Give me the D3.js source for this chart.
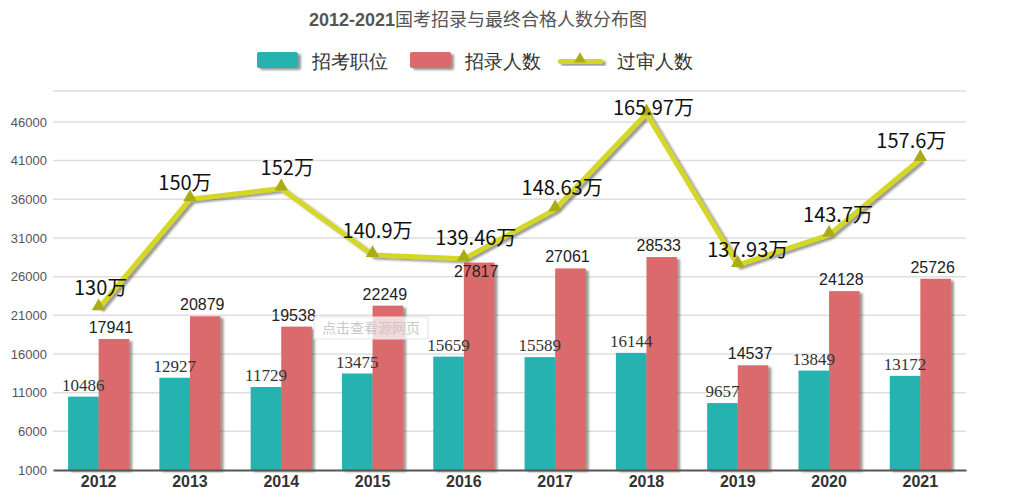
<!DOCTYPE html>
<html>
<head>
<meta charset="utf-8">
<script src="https://cdn.jsdelivr.net/npm/d3@7"></script>
<style>
  body { margin: 0; background: #fff; }
  svg text { font-family: "Liberation Sans", Arial, sans-serif; }
</style>
</head>
<body>
<svg id="chart"></svg>
<script>
var years = ["2012", "2013", "2014", "2015", "2016", "2017", "2018", "2019", "2020", "2021"]
var posts = [10486, 12927, 11729, 13475, 15659, 15589, 16144, 9657, 13849, 13172]
var hires = [17941, 20879, 19538, 22249, 27817, 27061, 28533, 14537, 24128, 25726]
// 过审人数 as drawn on the chart's axis (the chart does not plot it to scale)
var passedPlot = [21900, 36000, 37400, 28800, 28300, 34700, 47100, 27500, 31400, 41200]
var passedLabels = ["130万", "150万", "152万", "140.9万", "139.46万", "148.63万", "165.97万", "137.93万", "143.7万", "157.6万"]
var yTicks = [1000, 6000, 11000, 16000, 21000, 26000, 31000, 36000, 41000, 46000]

var width = 1033
var height = 502
var teal = "#27b3b0", red = "#db6b6d", lineCol = "#d5d726", markCol = "#a9ab17"

// label nudges so the line labels sit where the original puts them
var lineLabelOffset = [[2, -13], [-5, -9], [6, -13], [5, -17], [12, -14], [7, -14], [7, 2], [10, -8], [9, -13], [-9, -11]]

var svg = d3.select("#chart")
    .attr("width", width)
    .attr("height", height)

var defs = svg.append("defs")
var f = defs.append("filter").attr("id", "shadow")
    .attr("x", "-20%").attr("y", "-20%").attr("width", "150%").attr("height", "150%")
f.append("feDropShadow")
    .attr("dx", 3).attr("dy", 2).attr("stdDeviation", 1.3)
    .attr("flood-color", "#4a4a3a").attr("flood-opacity", 0.55)

var x = d3.scaleBand()
    .domain(years)
    .range([53, 966])
    .paddingInner(0.33)
    .paddingOuter(0.165)

var xSub = d3.scaleBand()
    .domain(["posts", "hires"])
    .range([0, x.bandwidth()])

var y = d3.scaleLinear()
    .domain([1000, 50000])
    .range([470, 91])

// title
var title = svg.append("text")
    .attr("x", 478)
    .attr("y", 26)
    .attr("text-anchor", "middle")
    .attr("fill", "#555")
    .style("font-size", "18px")
title.append("tspan").style("font-weight", "bold").text("2012-2021")
title.append("tspan").style("font-family", "'Noto Sans CJK SC'").text("国考招录与最终合格人数分布图")

// legend
var lg = svg.append("g").style("font-family", "'Noto Sans CJK SC'")
lg.append("rect").attr("x", 257).attr("y", 52).attr("width", 41).attr("height", 16).attr("rx", 2)
    .attr("fill", teal).attr("filter", "url(#shadow)")
lg.append("text").attr("x", 312).attr("y", 68).text("招考职位")
lg.append("rect").attr("x", 410).attr("y", 52).attr("width", 41).attr("height", 16).attr("rx", 2)
    .attr("fill", red).attr("filter", "url(#shadow)")
lg.append("text").attr("x", 465).attr("y", 68).text("招录人数")
lg.append("rect").attr("x", 558).attr("y", 59).attr("width", 45).attr("height", 5).attr("rx", 2)
    .attr("fill", lineCol).attr("filter", "url(#shadow)")
lg.append("path").attr("d", d3.symbol(d3.symbolTriangle, 60)).attr("transform", "translate(580,59)")
    .attr("fill", markCol)
lg.append("text").attr("x", 617).attr("y", 68).text("过审人数")
lg.selectAll("text").attr("fill", "#333").style("font-size", "18.5px")

// grid + y axis
var grid = svg.append("g")
grid.selectAll("line")
    .data(yTicks.slice(1).concat([50000]))
    .enter().append("line")
    .attr("x1", 53).attr("x2", 966)
    .attr("y1", d => y(d)).attr("y2", d => y(d))
    .attr("stroke", "#dedede").attr("stroke-width", 1.5)

var yAxis = svg.append("g")
    .attr("transform", "translate(53,0)")
    .call(d3.axisLeft(y).tickValues(yTicks).tickSize(0).tickPadding(6).tickFormat(d3.format("d")))
yAxis.select(".domain").remove()
yAxis.selectAll("text").attr("fill", "#555").style("font-size", "13px")
    .style("font-family", "'Liberation Sans', Arial, sans-serif")

// bars
var groups = svg.append("g").selectAll("g")
    .data(years)
    .enter().append("g")
    .attr("transform", d => "translate(" + x(d) + ",0)")

groups.append("rect")
    .attr("x", xSub("posts"))
    .attr("width", xSub.bandwidth())
    .attr("y", (d, i) => y(posts[i]))
    .attr("height", (d, i) => y(1000) - y(posts[i]))
    .attr("fill", teal)
    .attr("filter", "url(#shadow)")

groups.append("rect")
    .attr("x", xSub("hires"))
    .attr("width", xSub.bandwidth())
    .attr("y", (d, i) => y(hires[i]))
    .attr("height", (d, i) => y(1000) - y(hires[i]))
    .attr("fill", red)
    .attr("filter", "url(#shadow)")

// x axis
var xAxis = svg.append("g")
    .attr("transform", "translate(0,470)")
    .call(d3.axisBottom(x).tickSize(0).tickPadding(6))
xAxis.select(".domain").attr("stroke", "#555").attr("stroke-width", 2)
xAxis.selectAll("text").attr("fill", "#333").style("font-size", "16px").style("font-weight", "bold")
    .style("font-family", "'Liberation Sans', Arial, sans-serif")

// bar labels
groups.append("text")
    .attr("x", xSub("posts") + xSub.bandwidth() / 2)
    .attr("y", (d, i) => y(posts[i]) - 6)
    .attr("text-anchor", "middle")
    .attr("fill", "#333")
    .style("font-family", "'Liberation Serif', 'Times New Roman', serif")
    .style("font-size", "17px")
    .text((d, i) => posts[i])

groups.append("text")
    .attr("x", xSub("hires") + xSub.bandwidth() / 2 - 3)
    .attr("y", (d, i) => d == "2016" ? y(hires[i]) + 14 : y(hires[i]) - 6)
    .attr("text-anchor", "middle")
    .attr("fill", "#222")
    .style("font-size", "16px")
    .text((d, i) => hires[i])

// line of 过审人数
var cx = d => x(d) + x.bandwidth() / 2
var line = d3.line()
    .x((d, i) => cx(years[i]))
    .y(d => y(d))

svg.append("path")
    .datum(passedPlot)
    .attr("d", line)
    .attr("fill", "none")
    .attr("stroke", lineCol)
    .attr("stroke-width", 5)
    .attr("stroke-linejoin", "round")
    .attr("filter", "url(#shadow)")

svg.append("g").selectAll("path")
    .data(passedPlot)
    .enter().append("path")
    .attr("d", d3.symbol(d3.symbolTriangle, 80))
    .attr("transform", (d, i) => "translate(" + cx(years[i]) + "," + (y(d) - 2) + ")")
    .attr("fill", markCol)

svg.append("g").selectAll("text")
    .data(passedLabels)
    .enter().append("text")
    .attr("x", (d, i) => cx(years[i]) + lineLabelOffset[i][0])
    .attr("y", (d, i) => y(passedPlot[i]) + lineLabelOffset[i][1])
    .attr("text-anchor", "middle")
    .attr("fill", "#111")
    .style("font-family", "'Noto Sans CJK SC'")
    .style("font-size", "20px")
    .style("font-weight", "normal")
    .text(d => d)

// watermark overlay from the source page
svg.append("rect").attr("x", 314).attr("y", 317).attr("width", 114).attr("height", 22)
    .attr("fill", "#fff").attr("fill-opacity", 0.75).attr("stroke", "#e4e4e4")
svg.append("text").attr("x", 371).attr("y", 333).attr("text-anchor", "middle")
    .attr("fill", "#c8c8c8").style("font-family", "'Noto Sans CJK SC'").style("font-size", "14px")
    .text("点击查看源网页")
</script>
</body>
</html>
